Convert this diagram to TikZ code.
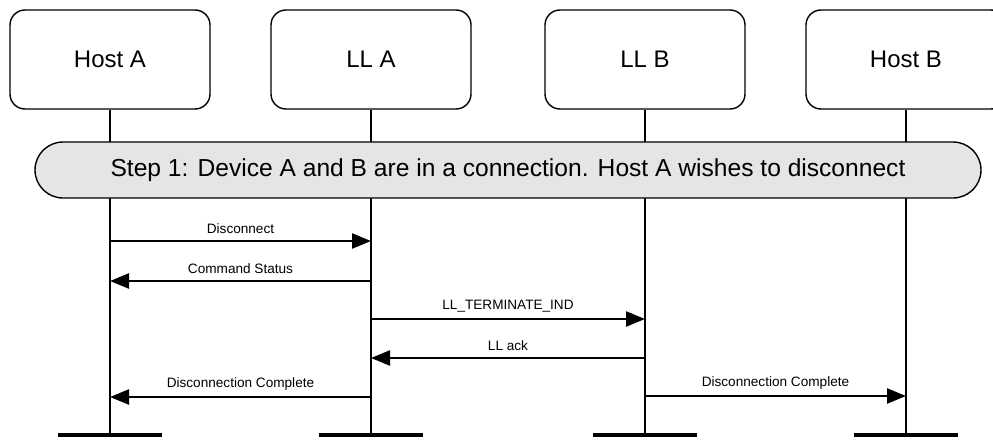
\documentclass[tikz,border=0pt]{standalone}
\usepackage{fontspec}
\setmainfont{Liberation Sans}
\usetikzlibrary{arrows.meta, calc}

\tikzset{
	actor/.style = {draw, line width=1.4pt, rounded corners=15pt, minimum width=200pt, minimum height=99pt, font=\fontsize{24}{27}\selectfont},
	lifeline/.style = {line width=1.8pt},
	endbar/.style = {line width=4.5pt},
	stepnote/.style = {draw, line width=1.4pt, fill=gray!20, rounded corners=28pt, minimum width=946pt, minimum height=56pt, font=\fontsize{24.6}{27}\selectfont},
	msg/.style = {line width=2.4pt, -{Triangle[length=19pt, width=15pt]}},
	msglabel/.style = {above=2.5pt, font=\fontsize{13.6}{15}\selectfont}
}

\begin{document}
\begin{tikzpicture}[x=1pt, y=-1pt]
	\useasboundingbox (0,0) rectangle (993,439);
	\clip (0,0) rectangle (993,439);

	\foreach \name/\x/\txt in {hosta/110/Host A, lla/371/LL A, llb/645/LL B, hostb/906/Host B}{
			\node[actor] (\name) at (\x,59.5) {\txt};
			\coordinate (\name-end) at (\x,435);
			\draw[lifeline] (\name) -- (\name-end);
			\draw[endbar] ($(\name-end)+(-52,0)$) -- ($(\name-end)+(52,0)$);
		}

	\node[stepnote] (step1) at (508,170) {Step 1: Device A and B are in a connection. Host A wishes to disconnect};

	\draw[msg] (hosta |- 0,241) -- node[msglabel] {Disconnect} (lla |- 0,241);
	\draw[msg] (lla |- 0,281) -- node[msglabel] {Command Status} (hosta |- 0,281);
	\draw[msg] (lla |- 0,319) -- node[msglabel] {LL\_TERMINATE\_IND} (llb |- 0,319);
	\draw[msg] (llb |- 0,358) -- node[msglabel] {LL ack} (lla |- 0,358);
	\draw[msg] (lla |- 0,397) -- node[msglabel] {Disconnection Complete} (hosta |- 0,397);
	\draw[msg] (llb |- 0,396) -- node[msglabel] {Disconnection Complete} (hostb |- 0,396);

\end{tikzpicture}
\end{document}
